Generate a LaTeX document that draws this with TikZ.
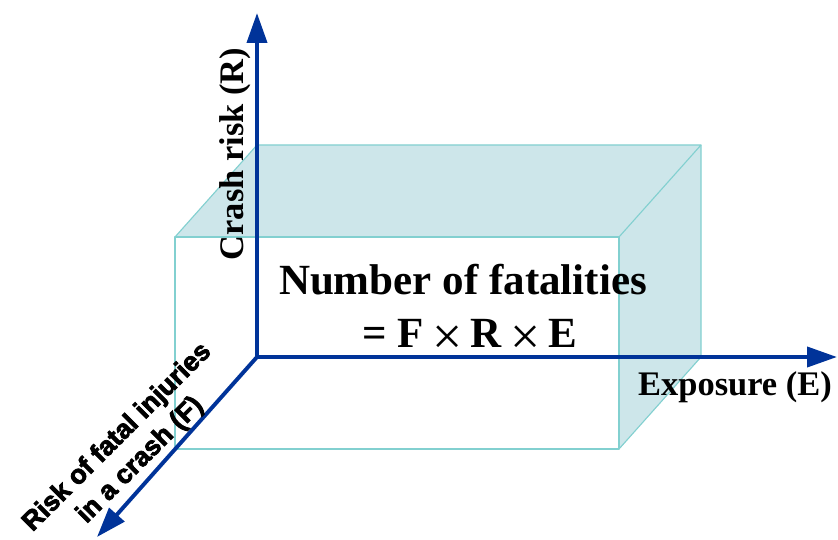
\documentclass[tikz,border=0pt]{standalone}
\usepackage{fontspec}
\setmainfont{Liberation Serif}
\newfontfamily\heavyfont{Liberation Sans}[UprightFont=*-Bold, UprightFeatures={FakeBold=3}]
\usetikzlibrary{arrows.meta}
\definecolor{axisblue}{RGB}{0,51,153}
\definecolor{boxfill}{RGB}{205,230,234}
\definecolor{boxedge}{RGB}{130,208,208}
\newcommand{\crosssign}{\hspace{6pt}\raisebox{-5.5pt}{\fontsize{38}{38}\selectfont\mdseries ×}\hspace{6pt}}
\tikzset{
  axis/.style={axisblue, line width=2.8pt, -{Triangle[length=0.75cm,width=0.5cm]}},
  boxline/.style={boxedge, line width=0.8pt, line join=round},
  axislabel/.style={font=\fontsize{24.5}{28}\selectfont\bfseries, inner sep=0pt},
}
\begin{document}
\begin{tikzpicture}
  \useasboundingbox (-6.425,-4.55) rectangle (14.525,8.925);

  \coordinate (O) at (0,0);
  \coordinate (Rtip) at (0,8.6);
  \coordinate (Etip) at (14.5,0);
  \coordinate (Ftip) at (-4,-4.5);

  % box: back face at the origin, front face shifted by (-2.05,-2.3)
  \fill[boxfill] (0,5.3) -- (11.1,5.3) -- (9.05,3) -- (-2.05,3) -- cycle;
  \fill[boxfill] (11.1,5.3) -- (11.1,0) -- (9.05,-2.3) -- (9.05,3) -- cycle;

  \draw[boxline] (-2.05,-2.3) rectangle (9.05,3);
  \draw[boxline] (-2.05,3) -- (0,5.3) -- (11.1,5.3) -- (9.05,3);
  \draw[boxline] (11.1,5.3) -- (11.1,0) -- (9.05,-2.3);

  % axes
  \draw[axis] (O) -- (Rtip);
  \draw[axis] (O) -- (Etip);
  \draw[axis] (O) -- (Ftip);

  \node[axislabel, rotate=90] (crash) at (-0.55,5.075) {Crash risk (R)};
  \node[axislabel, anchor=base] (expo) at (11.95,-0.95) {Exposure (E)};
  \node[font=\fontsize{30.6}{34}\selectfont\bfseries, anchor=base, inner sep=0pt]
    (fatal) at (5.15,1.575) {Number of fatalities};
  \node[font=\fontsize{30.6}{34}\selectfont\bfseries, anchor=base, inner sep=0pt]
    (formula) at (5.325,0.25) {= F\crosssign R\crosssign E};
  \node[font=\heavyfont\fontsize{19}{23}\selectfont, rotate=45, align=center, inner sep=0pt]
    (risk) at (-3.2,-2.3) {Risk of fatal injuries\\in a crash (F)};
\end{tikzpicture}
\end{document}
